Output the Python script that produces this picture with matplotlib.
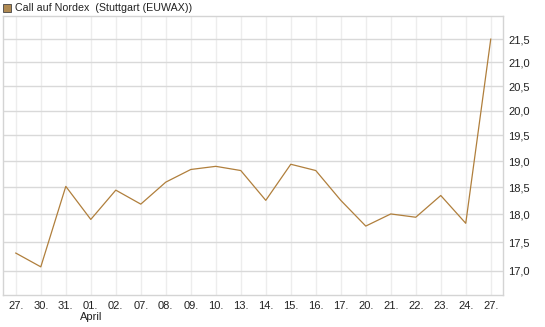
import matplotlib
matplotlib.use('Agg')
import matplotlib.pyplot as plt
import matplotlib.patches as mpatches
from matplotlib.ticker import FixedLocator, NullLocator, FixedFormatter

plt.rcParams['font.family'] = ['Liberation Sans', 'DejaVu Sans']

# Kursdaten (Call auf Nordex, Stuttgart EUWAX)
days = ['27.', '30.', '31.', '01.\nApril', '02.', '07.', '08.', '09.', '10.', '13.',
        '14.', '15.', '16.', '17.', '20.', '21.', '22.', '23.', '24.', '27.']
prices = [17.31, 17.07, 18.52, 17.91, 18.45, 18.19, 18.60, 18.84, 18.90, 18.82,
          18.26, 18.94, 18.82, 18.26, 17.79, 18.01, 17.95, 18.35, 17.84, 21.50]
y_ticks = [17.0, 17.5, 18.0, 18.5, 19.0, 19.5, 20.0, 20.5, 21.0, 21.5]

line_color = '#b07f3c'
W, H = 545, 327

fig = plt.figure(figsize=(W / 100, H / 100), dpi=100)
ax = fig.add_axes([2.8 / W, 1 - 295 / H, (503 - 2.8) / W, (295 - 16) / H])

x = list(range(len(prices)))
ax.plot(x, prices, color=line_color, lw=0.9, zorder=3)

ax.set_yscale('log')
ax.set_ylim(16.59, 22.01)
ax.set_xlim(-0.52, 19.49)

ax.yaxis.set_major_locator(FixedLocator(y_ticks))
ax.yaxis.set_major_formatter(FixedFormatter(['{:.1f}'.format(v).replace('.', ',') for v in y_ticks]))
ax.yaxis.set_minor_locator(NullLocator())
ax.yaxis.tick_right()
ax.set_xticks(x)
ax.set_xticklabels(days)

ax.tick_params(axis='both', length=0, labelsize=8, colors='#222222')
ax.tick_params(axis='y', pad=4)
ax.tick_params(axis='x', pad=4)

ax.grid(axis='y', color='#d9d9d9', lw=1.0)
ax.grid(axis='x', color='#ededed', lw=1.0)
ax.set_axisbelow(True)
for s in ax.spines.values():
    s.set_color('#d4d4d4')
    s.set_linewidth(1.0)

# Legende oben links
fig.patches.append(mpatches.Rectangle((3 / W, 1 - 12 / H), 8 / W, 8 / H,
                                      transform=fig.transFigure, facecolor='#b08a52',
                                      edgecolor='#444444', lw=0.6))
fig.text(15 / W, 1 - 8 / H, 'Call auf Nordex  (Stuttgart (EUWAX))',
         fontsize=7.7, va='center', ha='left', color='#222222')

fig.savefig('out.png', dpi=100)
